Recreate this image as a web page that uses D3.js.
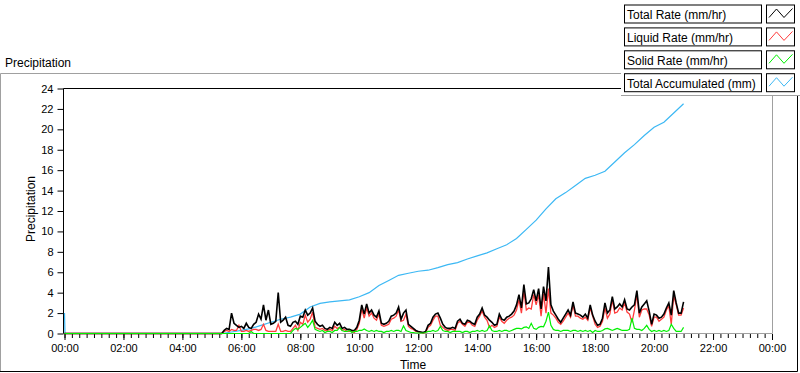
<!DOCTYPE html>
<html lang="en">
<head>
<meta charset="UTF-8">
<title>Precipitation</title>
<script src="https://d3js.org/d3.v7.min.js"></script>
<style>
  body { margin: 0; background: #fff; }
  svg { display: block; font-family: "Liberation Sans", Arial, sans-serif; }
  .tick text { font-size: 11px; fill: #000; }
  .lbl { font-size: 12px; fill: #000; }
</style>
</head>
<body>
<svg id="chart" width="800" height="373"></svg>
<script>
// rate series sampled every 5 min from 05:20 to 21:00 (values in mm/hr)
const rateStart = "05:20";
const rateStep = 5;

const totalRate = [
  0, 0.3, 0.5, 0.4, 2.0, 1.0, 0.8, 0.6,
  0.7, 0.5, 1.0, 0.6, 0.5, 0.9, 1.1, 1.9, 1.4, 2.8, 1.3, 2.3,
  0.9, 1.0, 1.2, 4.0, 1.1, 1.3, 1.6, 0.8, 0.7, 1.1, 1.2, 0.9,
  1.7, 1.6, 2.3, 1.8, 2.0, 2.5, 1.2, 0.9, 0.7, 0.8, 0.5, 0.4,
  0.6, 0.5, 1.1, 0.8, 1.0, 0.5, 0.6, 0.4, 0.4, 0.3, 0.3, 0.6,
  1.3, 2.8, 1.9, 2.9, 2.0, 2.3, 1.8, 1.6, 2.2, 1.0, 0.9, 1.0,
  1.2, 1.7, 1.8, 2.0, 2.6, 1.4, 2.0, 2.3, 0.9, 0.7, 0.5, 0.3,
  0.2, 0.15, 0.1, 0.2, 0.8, 1.0, 1.6, 1.9, 2.0, 1.5, 0.9, 0.6,
  0.5, 0.5, 0.6, 0.5, 1.2, 1.4, 1.0, 0.9, 1.3, 1.2, 1.0, 0.9,
  1.6, 1.9, 2.5, 1.8, 1.6, 1.3, 1.1, 0.8, 0.9, 1.9, 1.4, 1.3,
  1.6, 1.7, 1.9, 2.2, 2.8, 3.8, 2.5, 4.8, 2.9, 3.0, 3.4, 4.3,
  3.2, 4.4, 2.4, 4.6, 3.2, 6.5, 2.8, 2.2, 1.8, 1.4, 1.1, 1.5,
  1.9, 2.3, 1.8, 3.1, 2.0, 1.9, 1.8, 1.6, 1.9, 1.5, 2.8, 1.8,
  1.2, 0.8, 0.9, 1.5, 3.0, 2.0, 2.3, 3.6, 2.4, 2.6, 2.9, 2.6,
  3.3, 2.4, 2.3, 2.6, 2.8, 4.2, 2.0, 2.6, 2.9, 3.2, 2.2, 0.9,
  1.9, 1.8, 1.5, 1.6, 1.9, 2.5, 3.0, 1.8, 4.2, 3.0, 2.0, 2.0,
  3.1
];

const liquidRate = [
  0, 0.2, 0.3, 0.2, 0.4, 0.3, 0.3, 0.8,
  0.2, 0.2, 0.3, 0.2, 0.3, 0.4, 0.4, 0.3, 0.4, 0.9, 0.3, 0.2,
  0.2, 0.2, 0.2, 0.9, 0.2, 0.2, 0.3, 0.2, 0.2, 0.5, 0.8, 0.3,
  1.1, 0.9, 1.8, 1.1, 1.4, 2.1, 0.6, 0.5, 0.4, 0.5, 0.3, 0.3,
  0.4, 0.3, 0.7, 0.5, 0.6, 0.3, 0.4, 0.2, 0.2, 0.2, 0.1, 0.4,
  1.0, 2.4, 1.5, 2.5, 1.7, 2.0, 1.5, 1.3, 1.9, 0.8, 0.7, 0.8,
  0.9, 1.4, 1.5, 1.7, 2.3, 1.2, 1.3, 1.9, 0.7, 0.5, 0.4, 0.2,
  0.15, 0.1, 0.05, 0.1, 0.6, 0.8, 1.3, 1.7, 1.7, 0.8, 0.6, 0.4,
  0.3, 0.4, 0.4, 0.3, 1.0, 1.2, 0.9, 0.7, 1.1, 1.1, 0.8, 0.7,
  1.3, 1.7, 2.2, 1.6, 1.3, 0.6, 0.8, 0.6, 0.7, 1.6, 1.2, 1.0,
  1.3, 1.5, 1.6, 1.8, 2.3, 3.3, 2.0, 4.2, 2.3, 2.5, 2.4, 3.8,
  2.8, 3.8, 1.7, 3.9, 2.0, 4.4, 2.0, 1.8, 1.5, 1.1, 0.9, 1.2,
  1.6, 2.0, 1.6, 2.8, 1.7, 1.7, 1.5, 1.4, 1.6, 1.3, 2.5, 1.7,
  0.9, 0.6, 0.7, 1.2, 2.5, 1.5, 1.9, 3.3, 2.0, 2.1, 2.5, 2.3,
  3.0, 2.1, 1.9, 1.1, 2.3, 3.8, 1.6, 2.3, 2.4, 2.4, 1.8, 0.7,
  1.6, 1.6, 1.2, 1.4, 1.6, 2.3, 2.7, 0.9, 3.7, 2.8, 1.8, 1.8,
  2.5
];

const solidRate = [
  0, 0, 0, 0, 0, 0, 0, 0,
  0, 0, 0, 0, 0.2, 0, 0, 0, 0, 0, 0, 0,
  0, 0, 0, 0, 0, 0, 0, 0, 0, 0.3, 0.5, 0.4,
  0.6, 0.8, 1.0, 0.6, 0.9, 1.3, 0.4, 0.3, 0.2, 0.3, 0.1, 0.2,
  0.2, 0.1, 0.3, 0.3, 0.6, 0.3, 0.2, 0.2, 0.3, 0.1, 0.2, 0.2,
  0.3, 0.3, 0.45, 0.3, 0.2, 0.3, 0.2, 0.3, 0.2, 0.2, 0.1, 0.2,
  0.2, 0.3, 0.2, 0.3, 0.3, 0.2, 0.75, 0.3, 0.2, 0.1, 0.1, 0.05,
  0.05, 0.05, 0.05, 0.1, 0.2, 0.2, 0.3, 0.2, 0.3, 0.7, 0.3, 0.2,
  0.2, 0.1, 0.2, 0.2, 0.2, 0.2, 0.1, 0.2, 0.2, 0.1, 0.2, 0.2,
  0.3, 0.2, 0.3, 0.2, 0.3, 0.75, 0.3, 0.2, 0.2, 0.3, 0.2, 0.3,
  0.3, 0.2, 0.3, 0.4, 0.5, 0.5, 0.45, 0.6, 0.65, 0.5, 1.0, 0.5,
  0.4, 0.6, 0.7, 0.65, 1.2, 2.1, 0.8, 0.4, 0.3, 0.3, 0.2, 0.3,
  0.3, 0.3, 0.2, 0.3, 0.3, 0.2, 0.3, 0.2, 0.3, 0.2, 0.3, 0.1,
  0.3, 0.2, 0.2, 0.3, 0.45, 0.5, 0.4, 0.3, 0.4, 0.5, 0.4, 0.3,
  0.3, 0.3, 0.4, 1.5, 0.5, 0.4, 0.4, 0.3, 0.5, 0.8, 0.4, 0.2,
  0.3, 0.2, 0.3, 0.2, 0.3, 0.2, 0.3, 0.9, 0.5, 0.2, 0.2, 0.2,
  0.6
];

// total accumulated (mm)
const accTimes = ["00:00", "00:01", "05:20", "05:40", "06:00", "06:20", "06:40", "07:00", "07:20", "07:40",
  "08:00", "08:20", "08:40", "09:00", "09:20", "09:40", "10:00", "10:20", "10:40", "11:00",
  "11:20", "11:40", "12:00", "12:20", "12:40", "13:00", "13:20", "13:40", "14:00", "14:20",
  "14:40", "15:00", "15:20", "15:40", "16:00", "16:20", "16:40", "17:00", "17:20", "17:40",
  "18:00", "18:20", "18:40", "19:00", "19:20", "19:40", "20:00", "20:20", "20:40", "21:00"];
const accValues = [2, 0, 0, 0.15, 0.3, 0.5, 0.8, 1.1, 1.4, 1.6,
  1.9, 2.6, 2.95, 3.1, 3.2, 3.3, 3.6, 4.0, 4.7, 5.2,
  5.7, 5.9, 6.1, 6.2, 6.45, 6.75, 6.95, 7.3, 7.6, 7.9,
  8.3, 8.7, 9.3, 10.2, 11.1, 12.2, 13.2, 13.8, 14.5, 15.2,
  15.5, 15.9, 16.8, 17.7, 18.5, 19.4, 20.2, 20.7, 21.6, 22.5];

const legendNames = ["Total Rate (mm/hr)", "Liquid Rate (mm/hr)", "Solid Rate (mm/hr)", "Total Accumulated (mm)"];
const colors = ["#000000", "#ff3c3c", "#00f000", "#3cb8f4"];

const yTicks = d3.range(0, 25, 2);
const xMajor = d3.range(0, 1441, 120);
const xMinor = d3.range(0, 1441, 15);

const toMin = s => { const [h, m] = s.split(":").map(Number); return h * 60 + m; };

const svg = d3.select("#chart");

const x = d3.scaleLinear().domain([0, 1440]).range([64.5, 772]);
const y = d3.scaleLinear().domain([0, 24]).range([333.5, 88.5]);

// outer panel frame
svg.append("path").attr("d", "M0.5,372 V73.5 H800").attr("stroke", "#a0a0a0").attr("fill", "none");
svg.append("path").attr("d", "M0,371.5 H797.5 V73").attr("stroke", "#000").attr("fill", "none");

svg.append("text").attr("class", "lbl").attr("x", 5).attr("y", 67).text("Precipitation");

// plot frame
svg.append("path").attr("d", "M772.5,88.5 V333.5 H63").attr("stroke", "#a0a0a0").attr("fill", "none");
svg.append("path").attr("d", "M63.5,333.5 V88.5 H772.5").attr("stroke", "#000").attr("fill", "none");

// axes
const yAxis = svg.append("g").attr("transform", "translate(63.5,0)")
  .call(d3.axisLeft(y).tickValues(yTicks).tickSize(6).tickPadding(4));
yAxis.select(".domain").remove();

const xMinorAxis = svg.append("g").attr("transform", "translate(0,334)")
  .call(d3.axisBottom(x).tickValues(xMinor).tickSize(4).tickFormat(""));
xMinorAxis.select(".domain").remove();

const fmt = m => d3.format("02")(Math.floor(m / 60) % 24) + ":" + d3.format("02")(m % 60);
const xAxis = svg.append("g").attr("transform", "translate(0,334)")
  .call(d3.axisBottom(x).tickValues(xMajor).tickSize(6).tickPadding(4).tickFormat(fmt));
xAxis.select(".domain").remove();

svg.append("text").attr("class", "lbl").attr("x", 413).attr("y", 369)
  .attr("text-anchor", "middle").text("Time");
svg.append("text").attr("class", "lbl")
  .attr("transform", "translate(35,209) rotate(-90)")
  .attr("text-anchor", "middle").text("Precipitation");

// data
const rateTimes = [0].concat(totalRate.map((_, i) => toMin(rateStart) + i * rateStep));
const series = [
  [0].concat(totalRate),
  [0].concat(liquidRate),
  [0].concat(solidRate)
].map(vals => vals.map((v, i) => [rateTimes[i], v]));
const accSeries = accTimes.map((t, i) => [toMin(t), accValues[i]]);

const line = d3.line().x(d => x(d[0])).y(d => y(d[1]));

const g = svg.append("g");
g.append("path").datum(accSeries).attr("d", line).attr("fill", "none").attr("stroke", colors[3]).attr("stroke-width", 1.2);
g.append("path").datum(series[1]).attr("d", line).attr("fill", "none").attr("stroke", colors[1]).attr("stroke-width", 1.3);
g.append("path").datum(series[0]).attr("d", line).attr("fill", "none").attr("stroke", colors[0]).attr("stroke-width", 1.6);
g.append("path").datum(series[2]).attr("d", line).attr("fill", "none").attr("stroke", colors[2]).attr("stroke-width", 1.2);

// legend
const legend = svg.append("g");
legend.append("rect").attr("x", 621).attr("y", 0).attr("width", 179).attr("height", 95).attr("fill", "#fff");
legend.append("path").attr("d", "M621,95.5 H800").attr("stroke", "#a0a0a0");

const rows = legend.selectAll(".row").data(legendNames).join("g")
  .attr("class", "row")
  .attr("transform", (d, i) => `translate(0,${4.5 + i * 22.9})`);
rows.append("rect").attr("x", 624.5).attr("y", 0.5).attr("width", 137).attr("height", 18)
  .attr("fill", "#fff").attr("stroke", "#000");
rows.append("text").attr("class", "lbl").attr("x", 627).attr("y", 14.5).text(d => d);
rows.append("rect").attr("x", 766.5).attr("y", 0.5).attr("width", 28).attr("height", 18)
  .attr("fill", "#fff").attr("stroke", "#000");
rows.append("path")
  .attr("d", "M769,13 L776.5,4.5 L784,13 L792.5,4")
  .attr("fill", "none")
  .attr("stroke", (d, i) => colors[i]);
</script>
</body>
</html>
